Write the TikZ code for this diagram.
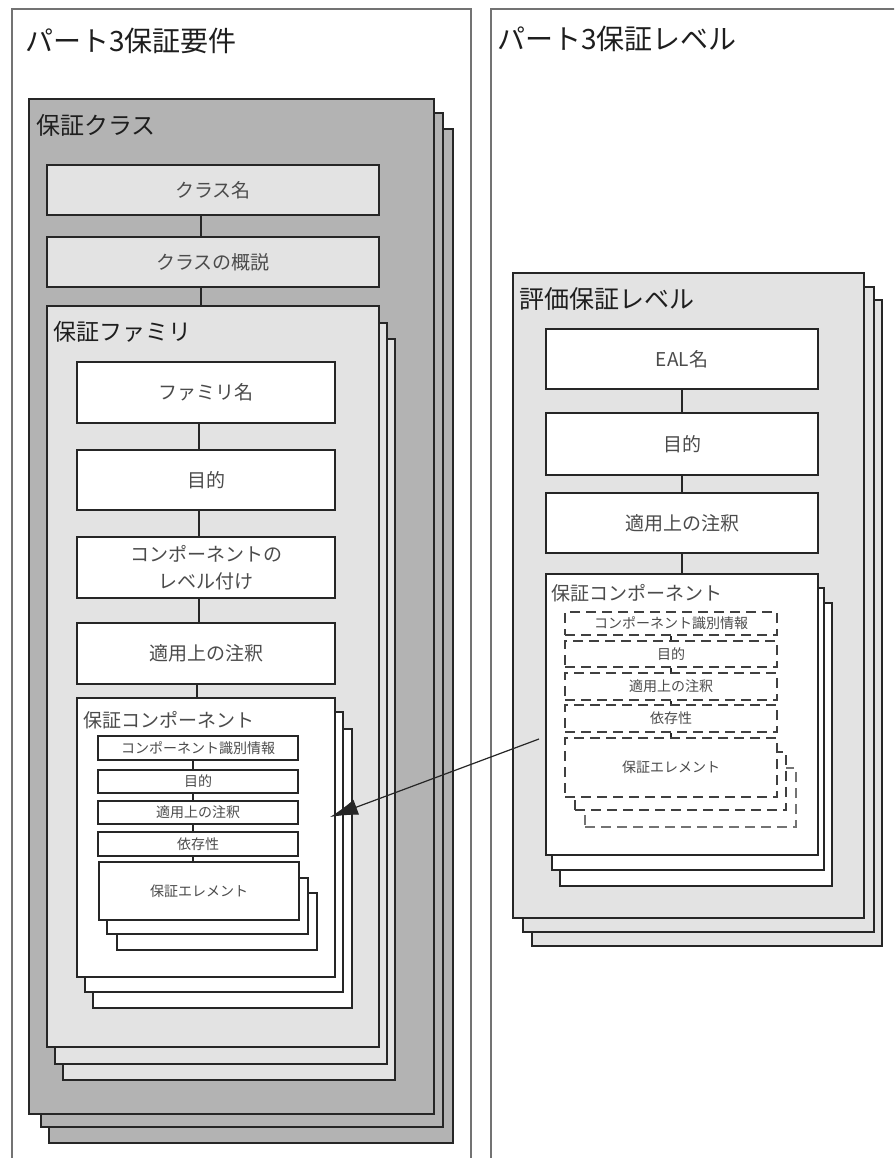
\documentclass[tikz,border=0pt]{standalone}
\usepackage{fontspec}
\newfontfamily\jp{Noto Sans CJK JP}
\usetikzlibrary{fit,arrows.meta,calc}
\definecolor{dkg}{RGB}{179,179,179}
\definecolor{ltg}{RGB}{227,227,227}
\definecolor{txt}{RGB}{75,75,75}
\definecolor{ttl}{RGB}{30,30,30}
\begin{document}
\begin{tikzpicture}[x=1pt,y=-1pt,
  panel/.style={draw=black!55, line width=1.6pt, fill=white, inner sep=0pt},
  bx/.style={draw=black!85, line width=1.3pt, inner sep=0pt},
  dk/.style={bx, fill=dkg},
  lt/.style={bx, fill=ltg},
  wt/.style={bx, fill=white},
  sm/.style={wt, line width=1.6pt},
  dsh/.style={draw=black!75, line width=1.8pt, dash pattern=on 10pt off 6pt, inner sep=0pt, fill=white},
  lbl/.style={inner sep=0pt, text=txt, align=center, font=\jp\fontsize{19}{27}\selectfont},
  lbls/.style={inner sep=0pt, text=txt, align=center, font=\jp\fontsize{14}{16}\selectfont},
  ttlA/.style={anchor=west, inner sep=0pt, text=ttl, font=\jp\fontsize{28}{30}\selectfont},
  ttlB/.style={anchor=west, inner sep=0pt, text=ttl, font=\jp\fontsize{24}{26}\selectfont},
  ttlC/.style={anchor=west, inner sep=0pt, text=txt, font=\jp\fontsize{19}{21}\selectfont},
  conn/.style={draw=black!85, line width=1.3pt}]
\useasboundingbox (0,0) rectangle (894,1158);
\clip (0,0) rectangle (894,1158);
\fill[white] (0,0) rectangle (894,1158);

% panels
\node[panel, fit={(12,9) (471,1175)}] (lp) {};
\node[panel, fit={(491,9) (910,1175)}] (rp) {};
\node[ttlA] (t1) at (25,41) {パート3保証要件};
\node[ttlA] (t2) at (497,39) {パート3保証レベル};

% class stack
\node[dk, fit={(49,129) (453,1143)}] (cls3) {};
\node[dk, fit={(41,113) (443,1127)}] (cls2) {};
\node[dk, fit={(29,99) (434,1114)}] (cls) {};
\node[ttlB] (clst) at (36,125) {保証クラス};
\node[lt, fit={(47,165) (379,215)}] (cname) {};
\node[lbl] (cnamet) at (cname.center) {クラス名};
\node[lt, fit={(47,237) (379,287)}] (cover) {};
\node[lbl] (covert) at (cover.center) {クラスの概説};

% family stack
\node[lt, fit={(63,339) (395,1080)}] (fam3) {};
\node[lt, fit={(55,323) (387,1064)}] (fam2) {};
\node[lt, fit={(47,306) (379,1047)}] (fam) {};
\node[ttlB, font=\jp\fontsize{23}{25}\selectfont] (famt) at (53,332) {保証ファミリ};
\node[wt, fit={(77,362) (335,423)}] (f1) {};
\node[lbl] (f1t) at (f1.center) {ファミリ名};
\node[wt, fit={(77,450) (335,510)}] (f2) {};
\node[lbl] (f2t) at (f2.center) {目的};
\node[wt, fit={(77,537) (335,598)}] (f3) {};
\node[lbl] (f3t) at (f3.center) {コンポーネントの\\レベル付け};
\node[wt, fit={(77,623) (335,684)}] (f4) {};
\node[lbl] (f4t) at (f4.center) {適用上の注釈};

% left component stack
\node[wt, fit={(93,729) (352,1008)}] (lc3) {};
\node[wt, fit={(85,712) (343,992)}] (lc2) {};
\node[wt, fit={(77,698) (335,977)}] (lc) {};
\node[ttlC] (lct) at (83,720) {保証コンポーネント};
\node[sm, fit={(98,736) (298,760)}] (l1) {};
\node[lbls] (l1t) at (l1.center) {コンポーネント識別情報};
\node[sm, fit={(98,770) (298,793)}] (l2) {};
\node[lbls] (l2t) at (l2.center) {目的};
\node[sm, fit={(98,801) (298,824)}] (l3) {};
\node[lbls] (l3t) at (l3.center) {適用上の注釈};
\node[sm, fit={(98,832) (298,856)}] (l4) {};
\node[lbls] (l4t) at (l4.center) {依存性};
\node[sm, fit={(117,893) (317,950)}] (le3) {};
\node[sm, fit={(107,878) (308,934)}] (le2) {};
\node[sm, fit={(99,862) (299,920)}] (le) {};
\node[lbls] (let) at (le.center) {保証エレメント};

% connectors left
\coordinate (xa) at (201,0);
\coordinate (xb) at (199,0);
\coordinate (xc) at (197,0);
\coordinate (xd) at (193,0);
\draw[conn] (xa |- cname.south) -- (xa |- cover.north);
\draw[conn] (xa |- cover.south) -- (xa |- fam.north);
\draw[conn] (xb |- f1.south) -- (xb |- f2.north);
\draw[conn] (xb |- f2.south) -- (xb |- f3.north);
\draw[conn] (xb |- f3.south) -- (xb |- f4.north);
\draw[conn] (xc |- f4.south) -- (xc |- lc.north);
\draw[conn] (xd |- l1.south) -- (xd |- l2.north);
\draw[conn] (xd |- l2.south) -- (xd |- l3.north);
\draw[conn] (xd |- l3.south) -- (xd |- l4.north);
\draw[conn] (xd |- l4.south) -- (xd |- le.north);

% EAL stack
\node[lt, fit={(532,300) (882,946)}] (eal3) {};
\node[lt, fit={(523,287) (874,932)}] (eal2) {};
\node[lt, fit={(513,273) (864,918)}] (eal) {};
\node[ttlB, font=\jp\fontsize{25}{27}\selectfont] (ealt) at (519,299) {評価保証レベル};
\node[wt, fit={(546,329) (818,389)}] (e1) {};
\node[lbl] (e1t) at (e1.center) {EAL名};
\node[wt, fit={(546,413) (818,475)}] (e2) {};
\node[lbl] (e2t) at (e2.center) {目的};
\node[wt, fit={(546,493) (818,553)}] (e3) {};
\node[lbl] (e3t) at (e3.center) {適用上の注釈};

% right component stack
\node[wt, fit={(560,603) (832,886)}] (rc3) {};
\node[wt, fit={(552,588) (824,870)}] (rc2) {};
\node[wt, fit={(546,574) (818,855)}] (rc) {};
\node[ttlC] (rct) at (551,593) {保証コンポーネント};
\node[dsh, fit={(565,612) (777,635)}] (d1) {};
\node[lbls] (d1t) at (d1.center) {コンポーネント識別情報};
\node[dsh, fit={(565,641) (777,667)}] (d2) {};
\node[lbls] (d2t) at (d2.center) {目的};
\node[dsh, fit={(565,673) (777,700)}] (d3) {};
\node[lbls] (d3t) at (d3.center) {適用上の注釈};
\node[dsh, fit={(565,705) (777,732)}] (d4) {};
\node[lbls] (d4t) at (d4.center) {依存性};
\node[dsh, draw=black!55, fit={(585,768) (796,827)}] (de3) {};
\node[dsh, fit={(575,752) (786,810)}] (de2) {};
\node[dsh, fit={(565,738) (777,797)}] (de) {};
\node[lbls] (det) at (de.center) {保証エレメント};

\coordinate (xe) at (682,0);
\coordinate (xf) at (671,0);
\draw[conn] (xe |- e1.south) -- (xe |- e2.north);
\draw[conn] (xe |- e2.south) -- (xe |- e3.north);
\draw[conn] (xe |- e3.south) -- (xe |- rc.north);
\draw[conn] (xf |- d1.south) -- (xf |- d2.north);
\draw[conn] (xf |- d2.south) -- (xf |- d3.north);
\draw[conn] (xf |- d3.south) -- (xf |- d4.north);
\draw[conn] (xf |- d4.south) -- (xf |- de.north);

% arrow
\coordinate (astart) at (539,739);
\coordinate (atip) at (330,817);
\draw[conn, line width=1.2pt, -{Latex[length=28pt,width=16pt]}] (astart) -- (atip);
\end{tikzpicture}
\end{document}
